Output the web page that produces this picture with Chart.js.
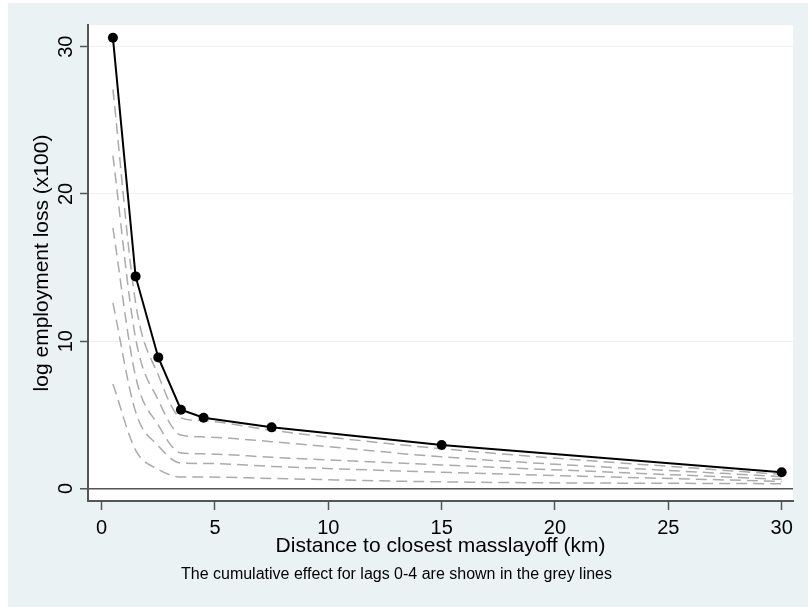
<!DOCTYPE html>
<html>
<head>
<meta charset="utf-8">
<script src="https://cdn.jsdelivr.net/npm/chart.js@4.4.1/dist/chart.umd.min.js"></script>
<style>
  html, body { margin: 0; padding: 0; background: #fff; }
  canvas { display: block; }
</style>
</head>
<body>
<canvas id="lossChart" width="808" height="607"></canvas>
<script>
// distance to closest mass layoff (km)
const distances = [0.5, 1.5, 2.5, 3.5, 4.5, 7.5, 15, 30];
// black line: total effect
const totalEffect = [30.6, 14.4, 8.9, 5.35, 4.8, 4.15, 2.95, 1.1];
// grey dashed lines: cumulative effects, lag 4 down to lag 0
const lag4 = [27.1, 12.6, 7.7, 4.8, 4.6, 3.95, 2.7, 0.95];
const lag3 = [22.6, 10.2, 6.0, 3.63, 3.5, 3.18, 2.15, 0.8];
const lag2 = [17.7, 7.6, 4.3, 2.41, 2.35, 2.12, 1.6, 0.62];
const lag1 = [12.6, 5.2, 2.9, 1.73, 1.7, 1.5, 1.1, 0.48];
const lag0 = [7.1, 2.6, 1.3, 0.78, 0.78, 0.68, 0.45, 0.32];

const xTicks = [0, 5, 10, 15, 20, 25, 30];
const yTicks = [0, 10, 20, 30];

const FONT = "'Liberation Sans', Arial, sans-serif";
const BG = "#EAF2F3";
const AXIS = "#555555";

const toPoints = vals => vals.map((v, i) => ({ x: distances[i], y: v }));

function greyLine(vals) {
    return {
        data: toPoints(vals),
        borderColor: "#ABABAB",
        borderWidth: 1.5,
        borderDash: [11, 6],
        pointRadius: 0,
        fill: false,
        cubicInterpolationMode: "monotone"
    };
}

const stataBackground = {
    id: "stataBackground",
    beforeDraw(chart) {
        const { ctx, chartArea } = chart;
        ctx.save();
        ctx.fillStyle = "#ffffff";
        ctx.fillRect(0, 0, chart.width, chart.height);
        ctx.fillStyle = BG;
        ctx.fillRect(8, 3, chart.width - 8, chart.height - 3);
        ctx.fillStyle = "#ffffff";
        ctx.fillRect(chartArea.left, chartArea.top,
            chartArea.right - chartArea.left, chartArea.bottom - chartArea.top);
        ctx.restore();
    }
};

const ctx = document.getElementById("lossChart").getContext("2d");

new Chart(ctx, {
    type: "line",
    data: {
        datasets: [
            {
                data: toPoints(totalEffect),
                borderColor: "#000000",
                backgroundColor: "#000000",
                borderWidth: 2,
                pointRadius: 5,
                pointBackgroundColor: "#000000",
                pointBorderWidth: 0,
                fill: false,
                tension: 0
            },
            greyLine(lag4),
            greyLine(lag3),
            greyLine(lag2),
            greyLine(lag1),
            greyLine(lag0)
        ]
    },
    options: {
        responsive: false,
        animation: false,
        layout: { padding: { left: 0, top: 25, right: 15, bottom: 0 } },
        plugins: {
            legend: { display: false },
            tooltip: { enabled: false },
            title: {
                display: true,
                position: "bottom",
                text: "The cumulative effect for lags 0-4 are shown in the grey lines",
                color: "#000000",
                font: { family: FONT, size: 16, weight: "normal" },
                padding: { top: 0, bottom: 23 }
            }
        },
        scales: {
            x: {
                type: "linear",
                min: -0.6,
                max: 30.5,
                afterBuildTicks: scale => { scale.ticks = xTicks.map(v => ({ value: v })); },
                afterFit: scale => { scale.height = 63.8; },
                grid: {
                    drawOnChartArea: false,
                    drawTicks: true,
                    tickLength: 9,
                    tickColor: AXIS,
                    tickWidth: 1.5
                },
                border: { color: AXIS, width: 2 },
                ticks: {
                    color: "#000000",
                    font: { family: FONT, size: 20 },
                    padding: 6,
                    maxRotation: 0
                },
                title: {
                    display: true,
                    text: "Distance to closest masslayoff (km)",
                    color: "#000000",
                    font: { family: FONT, size: 21 },
                    padding: { top: 0, bottom: 5.5 }
                }
            },
            y: {
                type: "linear",
                min: -0.85,
                max: 31.47,
                afterBuildTicks: scale => { scale.ticks = yTicks.map(v => ({ value: v })); },
                afterFit: scale => { scale.width = 88; },
                grid: {
                    drawTicks: true,
                    tickLength: 8,
                    tickColor: AXIS,
                    tickWidth: 1.5,
                    color: c => (c.tick && c.tick.value === 0) ? AXIS : BG,
                    lineWidth: c => (c.tick && c.tick.value === 0) ? 1.5 : 1
                },
                border: { color: AXIS, width: 2 },
                ticks: {
                    color: "#000000",
                    font: { family: FONT, size: 20 },
                    padding: 2,
                    minRotation: 90,
                    maxRotation: 90,
                    crossAlign: "center"
                },
                title: {
                    display: true,
                    text: "log employment loss (x100)",
                    color: "#000000",
                    font: { family: FONT, size: 21 },
                    padding: { top: 30, bottom: 0 }
                }
            }
        }
    },
    plugins: [stataBackground]
});
</script>
</body>
</html>
